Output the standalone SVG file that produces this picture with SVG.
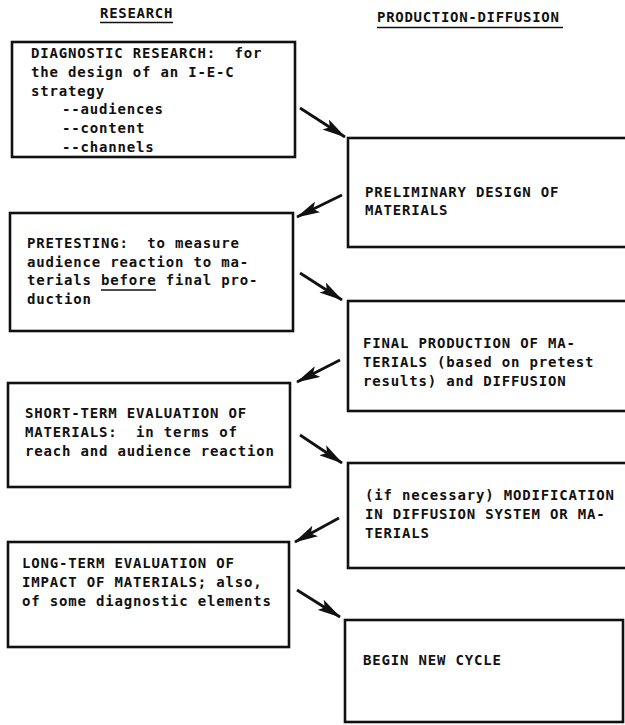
<svg xmlns="http://www.w3.org/2000/svg" width="625" height="725" viewBox="0 0 625 725" xml:space="preserve">
<style>
.box{fill:#fff;stroke:#111;stroke-width:2.6}
.t{font-family:"DejaVu Sans Mono","Liberation Mono",monospace;font-size:14px;font-weight:bold;letter-spacing:0.82px;fill:#111;white-space:pre}
.h{font-family:"DejaVu Sans Mono","Liberation Mono",monospace;font-size:14px;font-weight:bold;letter-spacing:0.7px;fill:#111}
.ul{stroke:#111;stroke-width:1.6}
.arr{stroke:#111;stroke-width:2.8;fill:none;marker-end:url(#ah)}
</style>
<defs>
<marker id="ah" markerUnits="userSpaceOnUse" markerWidth="24" markerHeight="12" refX="23" refY="6" orient="auto" viewBox="0 0 24 12">
<path d="M0,0 L24,6 L0,12 L5,6 z" fill="#111"/>
</marker>
</defs>
<rect width="625" height="725" fill="#fff"/>
<g id="headers">
<text class="h" x="100" y="18">RESEARCH</text>
<line class="ul" x1="100" y1="22.5" x2="173" y2="22.5"/>
<text class="h" x="377" y="22">PRODUCTION-DIFFUSION</text>
<line class="ul" x1="377" y1="27.5" x2="563" y2="27.5"/>
</g>
<g id="connectors">
<line class="arr" x1="300" y1="108" x2="345" y2="137"/>
<line class="arr" x1="342" y1="195" x2="297" y2="217"/>
<line class="arr" x1="300" y1="273" x2="342" y2="300"/>
<line class="arr" x1="340" y1="360" x2="297" y2="382"/>
<line class="arr" x1="300" y1="435" x2="342" y2="463"/>
<line class="arr" x1="339" y1="518" x2="295" y2="542"/>
<line class="arr" x1="297" y1="590" x2="340" y2="617"/>
</g>
<g id="diagnostic">
<rect class="box" x="12" y="42" width="283" height="115"/>
<text class="t" x="31" y="58">DIAGNOSTIC RESEARCH:  for</text>
<text class="t" x="31" y="77">the design of an I-E-C</text>
<text class="t" x="31" y="96">strategy</text>
<text class="t" x="62" y="114">--audiences</text>
<text class="t" x="62" y="133">--content</text>
<text class="t" x="62" y="152">--channels</text>
</g>
<g id="preliminary">
<rect class="box" x="348" y="138" width="285" height="109"/>
<text class="t" x="365" y="197">PRELIMINARY DESIGN OF</text>
<text class="t" x="365" y="215">MATERIALS</text>
</g>
<g id="pretesting">
<rect class="box" x="10" y="213" width="283" height="118"/>
<text class="t" x="27" y="248">PRETESTING:  to measure</text>
<text class="t" x="27" y="267">audience reaction to ma-</text>
<text class="t" x="27" y="285">terials before final pro-</text>
<line class="ul" x1="101" y1="290" x2="156" y2="290"/>
<text class="t" x="27" y="304">duction</text>
</g>
<g id="final-production">
<rect class="box" x="348" y="301" width="285" height="110"/>
<text class="t" x="363" y="348">FINAL PRODUCTION OF MA-</text>
<text class="t" x="363" y="367">TERIALS (based on pretest</text>
<text class="t" x="363" y="386">results) and DIFFUSION</text>
</g>
<g id="short-term">
<rect class="box" x="8" y="383" width="282" height="104"/>
<text class="t" x="25" y="418">SHORT-TERM EVALUATION OF</text>
<text class="t" x="25" y="437">MATERIALS:  in terms of</text>
<text class="t" x="25" y="456">reach and audience reaction</text>
</g>
<g id="modification">
<rect class="box" x="348" y="463" width="285" height="105"/>
<text class="t" x="365" y="500">(if necessary) MODIFICATION</text>
<text class="t" x="365" y="519">IN DIFFUSION SYSTEM OR MA-</text>
<text class="t" x="365" y="538">TERIALS</text>
</g>
<g id="long-term">
<rect class="box" x="8" y="542" width="281" height="105"/>
<text class="t" x="22" y="568">LONG-TERM EVALUATION OF</text>
<text class="t" x="22" y="587">IMPACT OF MATERIALS; also,</text>
<text class="t" x="22" y="606">of some diagnostic elements</text>
</g>
<g id="new-cycle">
<rect class="box" x="345" y="620" width="278" height="102"/>
<text class="t" x="363" y="665">BEGIN NEW CYCLE</text>
</g>
</svg>
